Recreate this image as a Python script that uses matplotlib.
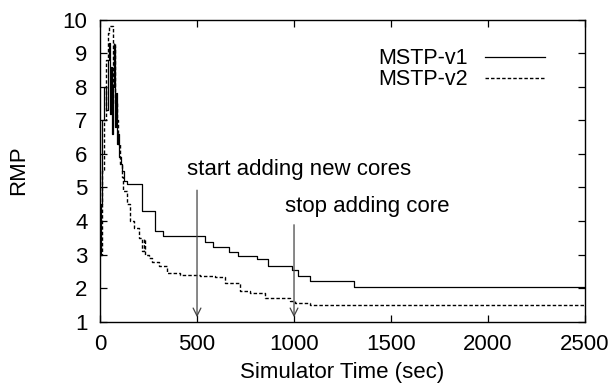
import matplotlib
matplotlib.use("Agg")
import matplotlib.pyplot as plt

# ---- data ----
t_v1 = [0, 5, 10, 20, 30, 40, 48, 52, 56, 60, 66, 72, 76, 82, 88, 95, 100, 108,
        115, 125, 140, 215, 283, 325, 541, 583, 665, 711, 808, 866, 988, 1021,
        1083, 1309, 2500]
rmp_v1 = [3.0, 4.5, 7.0, 8.0, 7.3, 8.8, 9.3, 7.2, 8.6, 6.6, 8.0, 9.2, 6.8, 7.8,
          6.3, 6.6, 5.9, 5.7, 5.5, 5.2, 5.1, 4.3, 3.7, 3.55, 3.38, 3.22, 3.08,
          2.96, 2.87, 2.65, 2.55, 2.35, 2.22, 2.02, 2.02]

t_v2 = [0, 5, 10, 20, 30, 40, 45, 62, 65, 70, 75, 85, 95, 105, 112, 118, 140,
        155, 175, 200, 215, 225, 232, 250, 270, 305, 345, 412, 515, 592, 644,
        721, 773, 850, 979, 1005, 1083, 2500]
rmp_v2 = [3.0, 3.0, 5.5, 7.0, 8.8, 9.6, 9.8, 9.8, 8.0, 9.3, 7.5, 7.0, 6.3, 5.7,
          5.3, 4.9, 4.5, 4.0, 3.8, 3.5, 3.1, 3.45, 3.0, 2.9, 2.78, 2.65, 2.46,
          2.40, 2.37, 2.32, 2.15, 1.92, 1.85, 1.70, 1.62, 1.55, 1.50, 1.48]

series_labels = ["MSTP-v1", "MSTP-v2"]
x_ticks = [0, 500, 1000, 1500, 2000, 2500]
y_ticks = [1, 2, 3, 4, 5, 6, 7, 8, 9, 10]

annotations = [
    ("start adding new cores", 500, 5.0, 1025, 5.52),
    ("stop adding core", 1000, 3.97, 1380, 4.42),
]
arrow_end = 1.05

plt.rcParams['font.family'] = ['Liberation Sans', 'DejaVu Sans']
fs = 16

fig = plt.figure(figsize=(6.14, 3.88), dpi=100)
ax = fig.add_axes([0.1629, 0.1709, 0.9528 - 0.1629, 0.9497 - 0.1709])

ax.plot(t_v1, rmp_v1, color='black', lw=0.9, drawstyle='steps-post',
        label=series_labels[0])
ax.plot(t_v2, rmp_v2, color='black', lw=1.0, drawstyle='steps-post',
        dashes=(2.5, 1.5), label=series_labels[1])

for txt, xa, ya, xt, yt in annotations:
    ax.annotate('', xy=(xa, arrow_end), xytext=(xa, ya),
                arrowprops=dict(arrowstyle='->', color='#444444', lw=0.9,
                                mutation_scale=14))
    ax.text(xt, yt, txt, ha='center', va='center', fontsize=fs)

ax.set_xlim(0, 2500)
ax.set_ylim(1, 10)
ax.set_xticks(x_ticks)
ax.set_yticks(y_ticks)
ax.tick_params(direction='in', length=5, width=0.9, top=True, right=True,
               labelsize=fs)
ax.tick_params(axis='y', pad=9)
ax.tick_params(axis='x', pad=9)
for sp in ax.spines.values():
    sp.set_linewidth(1.0)

ax.set_xlabel("Simulator Time (sec)", fontsize=fs, labelpad=5)
ax.set_ylabel("RMP", fontsize=fs, labelpad=24)

leg = ax.legend(loc='upper right', frameon=False, markerfirst=False,
                fontsize=15.5, handlelength=2.8, handletextpad=0.8,
                labelspacing=0.0, borderpad=0.0,
                bbox_to_anchor=(0.94, 0.94))

fig.savefig("out.png", dpi=100)
